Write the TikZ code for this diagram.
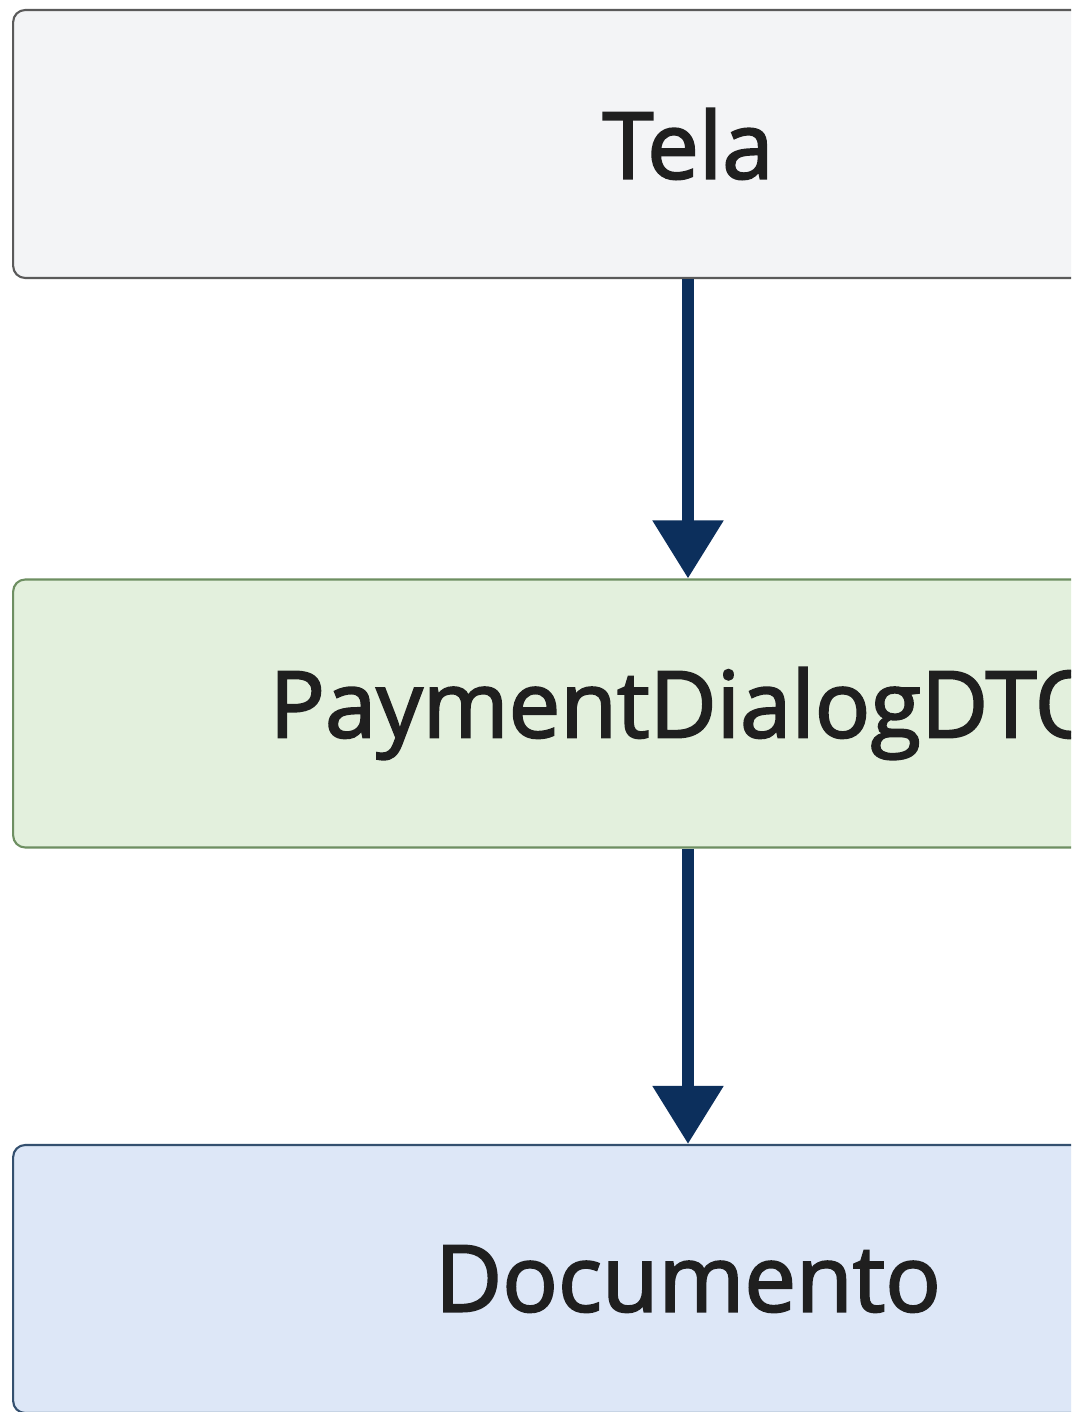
\documentclass[tikz,border=0pt]{standalone}
\usepackage{fontspec}
\setmainfont{Open Sans}
\newfontfamily\labelfont[FakeBold=2.2]{Open Sans}
\usetikzlibrary{arrows.meta}
\definecolor{telafill}{HTML}{F3F4F6}
\definecolor{teladraw}{HTML}{5A5A5A}
\definecolor{dtofill}{HTML}{E3F0DD}
\definecolor{dtodraw}{HTML}{6E8F62}
\definecolor{docfill}{HTML}{DDE7F7}
\definecolor{docdraw}{HTML}{34506F}
\definecolor{flowcol}{HTML}{0C2F5C}
\tikzset{
  box/.style={rectangle,rounded corners=0.24cm,line width=1.2pt,minimum width=27cm,minimum height=5.36cm,font=\labelfont\fontsize{52.5}{56}\selectfont,text=black!88},
  flow/.style={flowcol,line width=6.8pt,-{Triangle[width=1.36cm,length=1.16cm]}}
}
\begin{document}
\begin{tikzpicture}[x=0.02cm,y=-0.02cm]
\useasboundingbox[fill=white] (0,0) rectangle (1088,1412);
\clip (0,0) rectangle (1071,1412);
\node[box,fill=telafill,draw=teladraw] (tela) at (688,144) {Tela};
\node[box,fill=dtofill,draw=dtodraw] (dto) at (688,713.5) {PaymentDialogDTO};
\node[box,fill=docfill,draw=docdraw] (doc) at (688,1279) {Documento};
\draw[flow] (tela) -- (dto);
\draw[flow] (dto) -- (doc);
\end{tikzpicture}
\end{document}
